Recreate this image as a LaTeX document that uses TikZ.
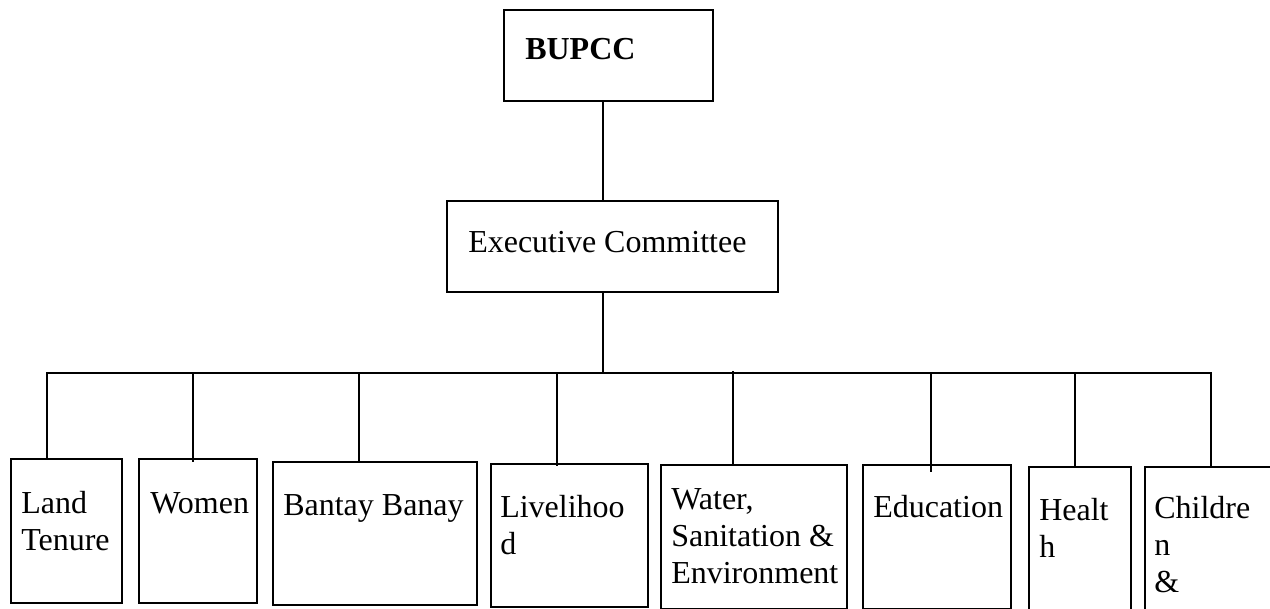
\documentclass[tikz,border=0pt]{standalone}
\usepackage{fontspec}
\setmainfont{Liberation Serif}
\usetikzlibrary{calc}
\tikzset{
  box/.style={draw=black, line width=1.4pt, rectangle, inner sep=0pt, fill=none},
  lbl/.style={anchor=base west, inner sep=0pt, font=\fontsize{24}{27.75}\selectfont},
  conn/.style={draw=black, line width=1.4pt}
}
\newcommand{\lines}[1]{\begin{tabular}[t]{@{}l@{}}#1\end{tabular}}
\begin{document}
\begin{tikzpicture}[x=0.75pt,y=-0.75pt]
\useasboundingbox (0,0) rectangle (1270,608);
\clip (0,0) rectangle (1270,608);
% boxes
\node[box, minimum width=156.75pt, minimum height=68.25pt] (bupcc) at (608.5,55.5) {};
\node[box, minimum width=248.25pt, minimum height=68.25pt] (exec) at (612.5,246.5) {};
\node[box, minimum width=83.25pt, minimum height=108pt] (land) at (66.5,531) {};
\node[box, minimum width=88.5pt, minimum height=108pt] (women) at (198,531) {};
\node[box, minimum width=153pt, minimum height=107.25pt] (bantay) at (375,533.5) {};
\node[box, minimum width=117.75pt, minimum height=107.25pt] (live) at (569.5,535.5) {};
\node[box, minimum width=139.5pt, minimum height=108pt] (water) at (754,537) {};
\node[box, minimum width=111pt, minimum height=108pt] (edu) at (937,537) {};
\node[box, minimum width=76.5pt, minimum height=111pt] (health) at (1080,541) {};
\node[box, minimum width=108.75pt, minimum height=111pt] (child) at (1217.5,541) {};
% texts
\node[lbl, font=\fontsize{24}{27.75}\selectfont\bfseries] (tbupcc) at (525,59) {BUPCC};
\node[lbl] (texec) at (468,252) {Executive Committee};
\node[lbl] (tland) at (21,513) {\lines{Land\\Tenure}};
\node[lbl] (twomen) at (150,513) {Women};
\node[lbl] (tbantay) at (283,515) {Bantay Banay};
\node[lbl] (tlive) at (500,517) {\lines{Livelihoo\\d}};
\node[lbl] (twater) at (671,509) {\lines{Water,\\Sanitation \&\\Environment}};
\node[lbl] (tedu) at (873,517) {Education};
\node[lbl] (thealth) at (1039,520) {\lines{Healt\\h}};
\node[lbl] (tchild) at (1154,518) {\lines{Childre\\n\\\&}};
% connectors
\coordinate (jx) at (603,373);
\coordinate (busL) at (46,373);
\coordinate (busR) at (1212,373);
\coordinate (b1) at (47,373);
\coordinate (b2) at (193,373);
\coordinate (b3) at (359,373);
\coordinate (b4) at (557,373);
\coordinate (b5) at (733,371);
\coordinate (b6) at (931,373);
\coordinate (b7) at (1075,373);
\coordinate (b8) at (1211,373);
\draw[conn] (bupcc.south -| jx) -- (exec.north -| jx);
\draw[conn] (exec.south -| jx) -- (jx);
\draw[conn] (busL) -- (busR);
\draw[conn] (b1) -- (land.north -| b1);
\draw[conn] (b2) -- ($(women.north -| b2)+(0,4)$);
\draw[conn] (b3) -- (bantay.north -| b3);
\draw[conn] (b4) -- ($(live.north -| b4)+(0,3)$);
\draw[conn] (b5) -- ($(water.north -| b5)+(0,2)$);
\draw[conn] (b6) -- ($(edu.north -| b6)+(0,8)$);
\draw[conn] (b7) -- ($(health.north -| b7)+(0,2)$);
\draw[conn] (b8) -- (child.north -| b8);
\end{tikzpicture}
\end{document}
